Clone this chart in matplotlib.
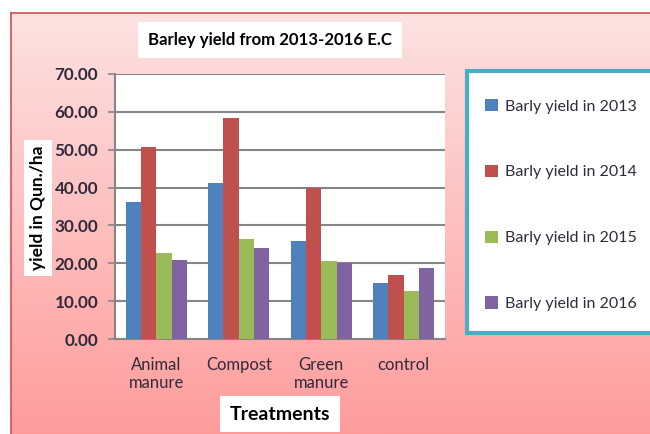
import numpy as np
import matplotlib.pyplot as plt
from matplotlib.patches import Patch, Rectangle

# data
treatments = ['Animal\nmanure', 'Compost', 'Green\nmanure', 'control']
years = ['Barly yield in 2013', 'Barly yield in 2014', 'Barly yield in 2015', 'Barly yield in 2016']
y2013 = [36.1, 41.2, 25.9, 14.9]
y2014 = [50.7, 58.5, 39.8, 16.9]
y2015 = [22.6, 26.5, 20.7, 12.7]
y2016 = [21.0, 24.1, 20.1, 18.8]
colors = ['#4f81bd', '#c0504d', '#9bbb59', '#8064a2']

plt.rcParams['font.family'] = ['Lato', 'DejaVu Sans']
txt = '#2f2b3a'

W, H = 650, 434
fig = plt.figure(figsize=(6.5, 4.34), dpi=100)
fig.patch.set_facecolor('white')

# pink gradient background with red border on top/left
bg = fig.add_axes([11 / W, 0, 1 - 11 / W, (H - 13) / H])
grad = np.linspace(0, 1, 256)[:, None]
top = np.array([253, 226, 226]) / 255
bot = np.array([255, 156, 156]) / 255
img = top + (bot - top) * grad[:, :, None]
bg.imshow(img, aspect='auto', extent=[0, 1, 0, 1], origin='upper')
bg.set_xlim(0, 1)
bg.set_ylim(0, 1)
bg.set_xticks([])
bg.set_yticks([])
for s in ['bottom', 'right']:
    bg.spines[s].set_visible(False)
for s in ['top', 'left']:
    bg.spines[s].set_color('#d05050')
    bg.spines[s].set_linewidth(1.2)

ax = fig.add_axes([115 / W, (H - 339) / H, 330 / W, 265 / H])
ax.set_facecolor('white')
ind = np.arange(len(treatments))
width = 0.185
series = [y2013, y2014, y2015, y2016]
for i, vals in enumerate(series):
    ax.bar(ind + (i - 1.5) * width, vals, width, color=colors[i], zorder=3)

ax.set_xlim(-0.5, 3.5)
ax.set_ylim(0, 70)
ax.set_yticks(np.arange(0, 71, 10))
ax.set_yticklabels(['%.2f' % v for v in np.arange(0, 71, 10)],
                   fontsize=12.3, fontweight='bold', color=txt)
ax.yaxis.grid(True, color='#868686', linewidth=1.5, zorder=0)
ax.tick_params(axis='y', length=5, width=1.2, color='#868686', pad=7)
ax.set_xticks(ind)
ax.set_xticklabels(treatments, fontsize=12, color=txt, linespacing=1.15)
ax.tick_params(axis='x', length=0, pad=13)
for s in ['top', 'right']:
    ax.spines[s].set_visible(False)
for s in ['left', 'bottom']:
    ax.spines[s].set_color('#868686')
    ax.spines[s].set_linewidth(1.5)

# title, axis labels in white boxes
fig.text(270 / W, 1 - 40 / H, 'Barley yield from 2013-2016 E.C', ha='center', va='center',
         fontsize=12.1, fontweight='bold', color='black',
         bbox=dict(facecolor='white', edgecolor='none', pad=7))
fig.text(38 / W, 1 - 208 / H, 'yield in Qun./ha', ha='center', va='center', rotation=90,
         fontsize=12.5, fontweight='bold', color='black',
         bbox=dict(facecolor='white', edgecolor='none', pad=4))
fig.text(280 / W, 1 - 414 / H, 'Treatments', ha='center', va='center',
         fontsize=14, fontweight='bold', color='black',
         bbox=dict(facecolor='white', edgecolor='none', pad=7))

# legend box runs off the right edge
fig.patches.append(Rectangle((467 / W, 1 - 333 / H), 200 / W, 262 / H,
                             transform=fig.transFigure, facecolor='white',
                             edgecolor='#4bacc6', linewidth=3, zorder=1))
handles = [Patch(facecolor=c, edgecolor='none') for c in colors]
leg = fig.legend(handles, years, loc='upper left', bbox_to_anchor=(485 / W, 1 - 99 / H),
                 bbox_transform=fig.transFigure, borderaxespad=0, borderpad=0,
                 fontsize=11.5, frameon=False, handlelength=0.8, handleheight=0.8,
                 handletextpad=0.45, labelspacing=3.2)
for t in leg.get_texts():
    t.set_color(txt)

plt.savefig('out.png', dpi=100)
